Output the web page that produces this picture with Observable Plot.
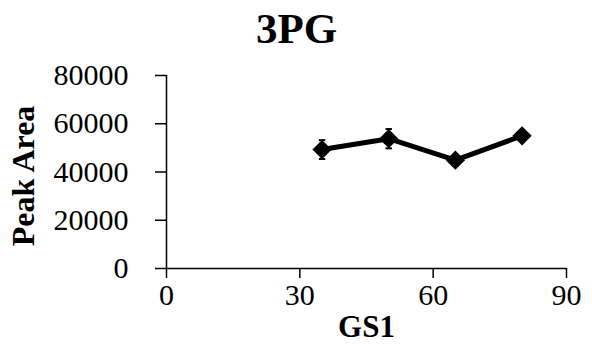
<!DOCTYPE html>
<html>
<head>
<meta charset="utf-8">
<script src="https://cdn.jsdelivr.net/npm/d3@7"></script>
<script src="https://cdn.jsdelivr.net/npm/@observablehq/plot@0.6"></script>
<style>
  html, body { margin: 0; padding: 0; background: #fff; }
  svg { font-family: "Liberation Serif", "Times New Roman", serif; }
</style>
</head>
<body>
<div id="chart"></div>
<script>
const title = "3PG";
const xLabel = "GS1";
const yLabel = "Peak Area";
const gs1 = [35, 50, 65, 80];
const peakArea = [49300, 53800, 44900, 55000];
const errors = [3900, 4000, 2200, 2200];
const xTicks = [0, 30, 60, 90];
const yTicks = [0, 20000, 40000, 60000, 80000];

const data = gs1.map((x, i) => ({x, y: peakArea[i], lo: peakArea[i] - errors[i], hi: peakArea[i] + errors[i]}));

const capSymbol = {
  draw(context, size) {
    const w = Math.sqrt(size) / 2;
    context.moveTo(-w, 0);
    context.lineTo(w, 0);
  }
};

const font = "Liberation Serif, Times New Roman, serif";

const chart = Plot.plot({
  width: 592,
  height: 344,
  marginLeft: 166,
  marginRight: 26,
  marginTop: 75,
  marginBottom: 76,
  style: {fontFamily: font, background: "#fff", color: "#000"},
  x: {domain: [0, 90]},
  y: {domain: [0, 80000]},
  marks: [
    Plot.axisY({ticks: yTicks, tickSize: 11, tickFormat: () => "", label: null, strokeWidth: 1.5}),
    Plot.axisY({ticks: yTicks, tickSize: 0, tickPadding: 0, dx: -38, fontSize: 30, tickFormat: d => String(d), label: null, fill: "#000"}),
    Plot.axisX({ticks: xTicks, tickSize: 10, tickPadding: 5, fontSize: 30, tickFormat: d => String(d), label: null, strokeWidth: 1.5, fill: "#000"}),
    Plot.ruleX([0], {stroke: "#000", strokeWidth: 1.5}),
    Plot.ruleY([0], {stroke: "#000", strokeWidth: 1.5}),
    Plot.ruleX(data, {x: "x", y1: "lo", y2: "hi", stroke: "#000", strokeWidth: 1.5}),
    Plot.dot(data, {x: "x", y: "lo", symbol: capSymbol, r: 3.6, stroke: "#000", strokeWidth: 2}),
    Plot.dot(data, {x: "x", y: "hi", symbol: capSymbol, r: 3.6, stroke: "#000", strokeWidth: 2}),
    Plot.line(data, {x: "x", y: "y", stroke: "#000", strokeWidth: 5}),
    Plot.dot(data, {x: "x", y: "y", symbol: "diamond2", r: 8.7, fill: "#000", stroke: "none"}),
    Plot.text([title], {frameAnchor: "top", lineAnchor: "bottom", dx: -70, dy: -33, fontSize: 43, fontWeight: "bold", fill: "#000"}),
    Plot.text([yLabel], {frameAnchor: "left", textAnchor: "middle", rotate: -90, dx: -143, dy: 4, fontSize: 32, fontWeight: "bold", fill: "#000"}),
    Plot.text([xLabel], {frameAnchor: "bottom", lineAnchor: "bottom", dy: 68, fontSize: 31, fontWeight: "bold", fill: "#000"})
  ]
});
document.getElementById("chart").appendChild(chart);
</script>
</body>
</html>
